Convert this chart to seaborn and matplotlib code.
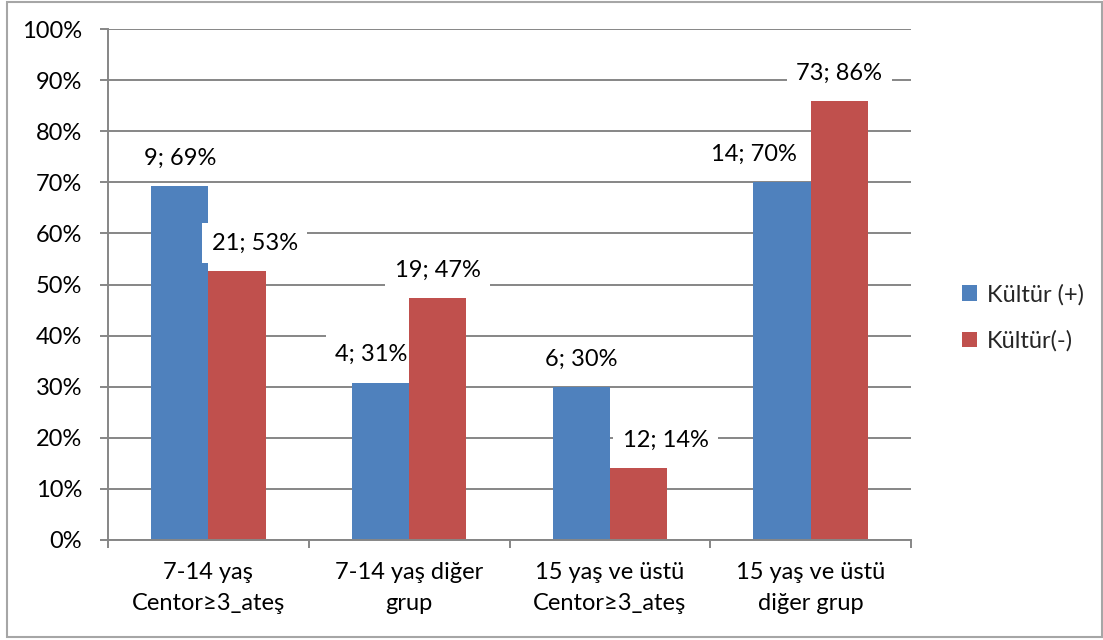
import matplotlib
matplotlib.use("Agg")
import matplotlib.pyplot as plt
from matplotlib.patches import Rectangle
from matplotlib.ticker import PercentFormatter, FixedLocator
import seaborn as sns
import pandas as pd
from decimal import Decimal, ROUND_HALF_UP

# Groups, counts and within-column percentages for each culture result
groups = ["7-14 yaş\nCentor≥3_ateş", "7-14 yaş diğer\ngrup",
          "15 yaş ve üstü\nCentor≥3_ateş", "15 yaş ve üstü\ndiğer grup"]
series = ["Kültür (+)", "Kültür(-)"]
pos_counts = [9, 4, 6, 14]
pos_pct = [69.2, 30.8, 30.0, 70.0]
neg_counts = [21, 19, 12, 73]
neg_pct = [52.6, 47.4, 14.1, 85.9]

colors = ["#4F81BD", "#C0504D"]
grid_gray = "#868686"

# Horizontal nudges of the value labels (pixels), per series and group
label_dx_px = [[0, -9, 0, -28], [18, 0, 27, 0]]

df = pd.DataFrame({
    "grup": groups * 2,
    "seri": [series[0]] * len(groups) + [series[1]] * len(groups),
    "yuzde": pos_pct + neg_pct,
})


def label_text(count, value):
    r = Decimal(str(value)).quantize(Decimal("1"), rounding=ROUND_HALF_UP)
    return f"{count}; {int(r)}%"


sns.set_theme(style="white")
plt.rcParams["font.family"] = ["Lato", "DejaVu Sans"]
FS = 17

W, H = 1103, 640
fig = plt.figure(figsize=(W / 100, H / 100), dpi=100)
ax = fig.add_axes([108 / W, 1 - 540 / H, (911 - 108) / W, (540 - 29) / H])

sns.barplot(data=df, x="grup", y="yuzde", hue="seri", order=groups,
            hue_order=series, palette=colors, saturation=1, width=0.57,
            dodge=True, ax=ax, legend=True, linewidth=0, edgecolor="none")

ax.set_ylim(0, 100)
ax.set_xlim(-0.5, len(groups) - 0.5)
ax.set_yticks(range(0, 101, 10))
ax.yaxis.set_major_formatter(PercentFormatter(100, decimals=0))
ax.set_xlabel("")
ax.set_ylabel("")
ax.grid(axis="y", color=grid_gray, linewidth=1.4, zorder=0)
ax.set_axisbelow(True)

for side in ["top", "right"]:
    ax.spines[side].set_visible(False)
for side in ["left", "bottom"]:
    ax.spines[side].set_color(grid_gray)
    ax.spines[side].set_linewidth(1.4)
    ax.spines[side].set_zorder(10)

ax.tick_params(axis="y", which="major", direction="out", length=6,
               width=1.4, color=grid_gray, labelsize=FS, pad=12.5,
               labelcolor="black", left=True)
ax.tick_params(axis="x", which="major", length=0, labelsize=FS, pad=16,
               labelcolor="black")
ax.xaxis.set_minor_locator(FixedLocator([i - 0.5 for i in range(len(groups) + 1)]))
ax.tick_params(axis="x", which="minor", direction="out", length=6,
               width=1.4, color=grid_gray, bottom=True)
for lbl in ax.get_xticklabels():
    lbl.set_linespacing(1.6)

# Each series: its bars, then its value labels on white boxes above them
counts = [pos_counts, neg_counts]
values = [pos_pct, neg_pct]
for si, cont in enumerate(ax.containers):
    for gi, bar in enumerate(cont.patches):
        bar.set_zorder(3 + 2 * si)
        x = bar.get_x() + bar.get_width() / 2
        y = bar.get_height()
        ax.annotate(label_text(counts[si][gi], values[si][gi]), (x, y),
                    xytext=(label_dx_px[si][gi] * 0.72, 20),
                    textcoords="offset points", ha="center", va="center",
                    fontsize=FS, color="black", zorder=4 + 2 * si,
                    bbox=dict(boxstyle="square,pad=0.4", fc="white",
                              ec="none"))

leg = ax.legend(loc="center left", bbox_to_anchor=(950 / W, 1 - 318 / H),
                bbox_transform=fig.transFigure, frameon=False, fontsize=FS,
                handlelength=0.65, handleheight=0.65, handletextpad=0.4,
                labelspacing=1.05, borderpad=0, title=None)

# Outer chart border
fig.patches.append(Rectangle((7 / W, 3 / H), 1095 / W, 635 / H,
                             transform=fig.transFigure, fill=False,
                             edgecolor="#A6A6A6", linewidth=1.5))

fig.savefig("out.png", dpi=100)
